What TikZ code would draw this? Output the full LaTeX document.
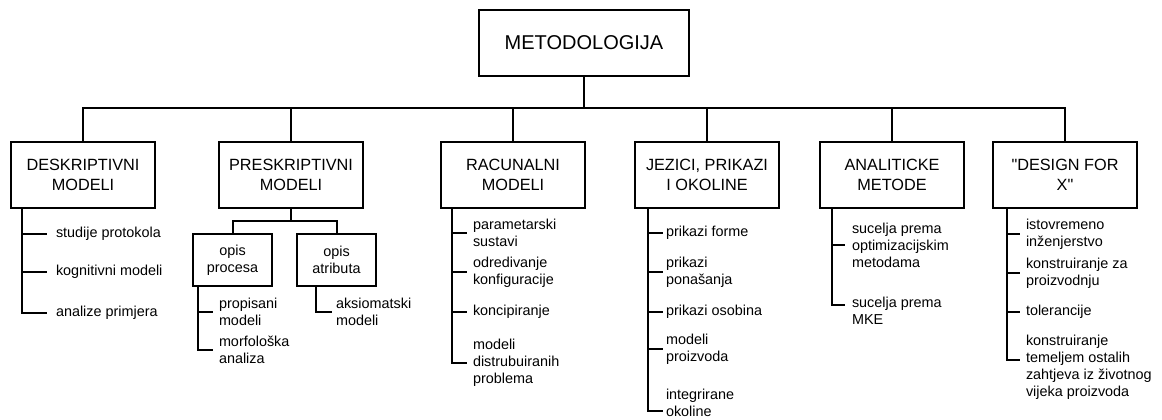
\documentclass[tikz,border=0pt]{standalone}
\usepackage{fontspec}
\setmainfont{Liberation Sans}[Ligatures=TeXOff]
\usetikzlibrary{positioning}

\tikzset{
	head/.style={draw, rectangle, line width=1.5pt, minimum width=157.5pt, minimum height=49.5pt, inner sep=0pt, font=\fontsize{15}{18}\selectfont},
	box/.style={draw, rectangle, line width=1.5pt, minimum width=108pt, minimum height=49.5pt, inner sep=0pt, align=center, font=\fontsize{12.2}{15}\selectfont},
	subbox/.style={draw, rectangle, line width=1.5pt, minimum width=59.25pt, minimum height=39pt, inner sep=0pt, align=center, font=\fontsize{10.8}{12.5}\selectfont},
	item/.style={anchor=west, inner sep=0pt, align=left, font=\fontsize{10.8}{12.75}\selectfont}
}

\begin{document}
\begin{tikzpicture}[x=0.75pt, y=-0.75pt, line width=1.5pt]

		\useasboundingbox (0,0) rectangle (1162,419);

		\node[head] (M0) 		at (584,43) 		{METODOLOGIJA};
		\coordinate (bus) 		at (584,108);

		\node[box] (M1) 		at (83,175) 		{DESKRIPTIVNI\\MODELI};
		\node[box] (M2) 		at (291,175) 		{PRESKRIPTIVNI\\MODELI};
		\node[box] (M3) 		at (513,175) 		{RACUNALNI\\MODELI};
		\node[box] (M4) 		at (707,175) 		{JEZICI, PRIKAZI\\I OKOLINE};
		\node[box] (M5) 		at (892,175) 		{ANALITICKE\\METODE};
		\node[box] (M6) 		at (1065,175) 		{"DESIGN FOR\\X"};

		\node[subbox] (M2a) 	at (232.5,260) 		{opis\\procesa};
		\node[subbox] (M2b) 	at (336.5,260) 		{opis\\atributa};

		\node[item] (M1a) 		at (55,234) 		{studije protokola};
		\node[item] (M1b) 		at (55,272) 		{kognitivni modeli};
		\node[item] (M1c) 		at (55,313) 		{analize primjera};

		\node[item] (M2aa) 		at (218,312) 		{propisani\\modeli};
		\node[item] (M2ab) 		at (218,350) 		{morfološka\\analiza};
		\node[item] (M2ba) 		at (335,312) 		{aksiomatski\\modeli};

		\node[item] (M3a) 		at (472,233) 		{parametarski\\sustavi};
		\node[item] (M3b) 		at (472,272) 		{odredivanje\\konfiguracije};
		\node[item] (M3c) 		at (472,312) 		{koncipiranje};
		\node[item] (M3d) 		at (472,363) 		{modeli\\distrubuiranih\\problema};

		\node[item] (M4a) 		at (665,233) 		{prikazi forme};
		\node[item] (M4b) 		at (665,272) 		{prikazi\\ponašanja};
		\node[item] (M4c) 		at (665,312) 		{prikazi osobina};
		\node[item] (M4d) 		at (665,349) 		{modeli\\proizvoda};
		\node[item] (M4e) 		at (665,403) 		{integrirane\\okoline};

		\node[item] (M5a) 		at (851,245) 		{sucelja prema\\optimizacijskim\\metodama};
		\node[item] (M5b) 		at (851,311) 		{sucelja prema\\MKE};

		\node[item] (M6a) 		at (1025,234) 		{istovremeno\\inženjerstvo};
		\node[item] (M6b) 		at (1025,273) 		{konstruiranje za\\proizvodnju};
		\node[item] (M6c) 		at (1025,312) 		{tolerancije};
		\node[item] (M6d) 		at (1025,367) 		{konstruiranje\\temeljem ostalih\\zahtjeva iz životnog\\vijeka proizvoda};

    \draw (M0.south) -- (bus);
    \foreach \n in {M1,M2,M3,M4,M5,M6}
        \draw (\n.north) |- (bus);

    \draw (M2.south) -- ++(0,-9pt) coordinate (split);
    \draw (M2a.north) |- (split);
    \draw (M2b.north) |- (split);

    \foreach \i in {a,b,c}
        \draw ([xshift=9pt]M1.south west) |- ([xshift=-6pt]M1\i.west);
    \foreach \i in {a,b}
        \draw ([xshift=4.5pt]M2a.south west) |- ([xshift=-3.75pt]M2a\i.west);
    \draw ([xshift=15pt]M2b.south west) |- ([xshift=-2.25pt]M2ba.west);
    \foreach \i in {a,b,c,d}
        \draw ([xshift=9pt]M3.south west) |- ([xshift=-3.75pt]M3\i.west);
    \foreach \i in {a,b,c,d}
        \draw ([xshift=10.5pt]M4.south west) |- ([xshift=-1.5pt]M4\i.west);
    \draw ([xshift=10.5pt]M4.south west) |- ([xshift=-1.5pt, yshift=-6pt]M4e.west);
    \draw ([xshift=9.75pt]M5.south west) |- ([xshift=-4.5pt]M5a.west);
    \draw ([xshift=9.75pt]M5.south west) |- ([xshift=-4.5pt, yshift=4.5pt]M5b.west);
    \foreach \i in {a,b,c}
        \draw ([xshift=11.25pt]M6.south west) |- ([xshift=-3.75pt]M6\i.west);
    \draw ([xshift=11.25pt]M6.south west) |- ([xshift=-3.75pt, yshift=5.25pt]M6d.west);

\end{tikzpicture}
\end{document}
